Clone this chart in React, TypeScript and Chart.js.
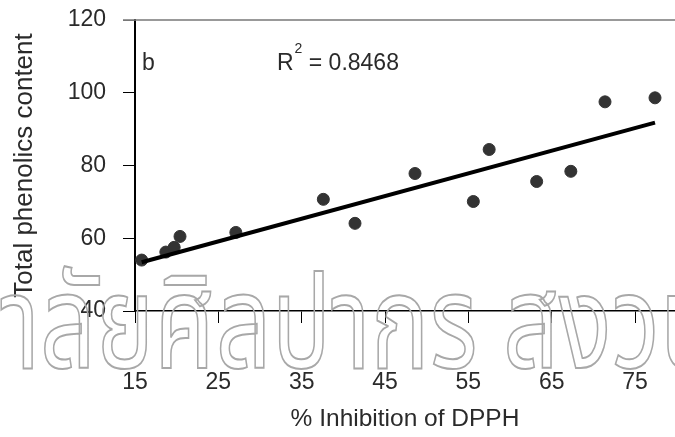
import React, { useEffect, useRef } from "react";
import { Chart, registerables } from "chart.js";

Chart.register(...registerables);

const xValues = [15.8, 18.7, 19.7, 20.4, 27.1, 37.6, 41.4, 48.6, 55.6, 57.5, 63.2, 67.3, 71.4, 77.4];
const yValues = [54.0, 56.2, 57.5, 60.5, 61.6, 70.7, 64.1, 77.8, 70.1, 84.4, 75.6, 78.4, 97.5, 98.6];
const trendX = [15.8, 77.4];
const trendY = [53.4, 91.8];
const xTickValues = [15, 25, 35, 45, 55, 65, 75];
const yTickValues = [40, 60, 80, 100, 120];
const xTitle = "% Inhibition of DPPH";
const yTitle = "Total phenolics content";
const panelLabel = "b";
const r2Label = "0.8468";
const watermark = "มหาวิทยาลัยศิลปากร สงวนลิขสิทธิ์";

const FONT = "'Liberation Sans', Arial, sans-serif";
const TEXT = "#2a2a2a";

const overlay = {
  id: "overlay",
  afterDraw(chart: any) {
    const ctx = chart.ctx;
    const area = chart.chartArea;
    ctx.save();
    // top border line
    ctx.strokeStyle = "#777";
    ctx.lineWidth = 1.5;
    ctx.beginPath();
    ctx.moveTo(area.left - 12, area.top);
    ctx.lineTo(chart.width, area.top);
    ctx.stroke();

    // panel label and R^2
    ctx.fillStyle = TEXT;
    ctx.font = `23px ${FONT}`;
    ctx.textBaseline = "alphabetic";
    ctx.textAlign = "left";
    ctx.fillText(panelLabel, area.left + 7, 70);
    let x = 277;
    ctx.fillText("R", x, 70);
    x += ctx.measureText("R").width;
    ctx.font = `14px ${FONT}`;
    ctx.fillText("2", x + 1, 53);
    x += ctx.measureText("2").width + 1;
    ctx.font = `23px ${FONT}`;
    ctx.fillText(" = " + r2Label, x, 70);

    // watermark
    const size = 130;
    ctx.font = `${size}px 'Noto Sans Thai', 'Noto Sans', sans-serif`;
    const w1 = ctx.measureText("มหาวิทยา").width;
    const w2 = ctx.measureText("มหาวิทยาลัยศิลปากร ").width;
    const sx = (503 - 40) / (w2 - w1);
    const x0 = 40 - w1 * sx;
    ctx.translate(x0, 368);
    ctx.scale(sx, 1);
    ctx.strokeStyle = "#a8a8a8";
    ctx.lineWidth = 1.5 / sx;
    ctx.strokeText(watermark, 0, 0);
    ctx.restore();
  },
};

export default function App() {
  const ref = useRef<HTMLCanvasElement | null>(null);
  useEffect(() => {
    if (!ref.current) return;
    const chart = new Chart(ref.current, {
      type: "scatter",
      data: {
        datasets: [
          {
            type: "line",
            data: trendX.map((x, i) => ({ x, y: trendY[i] })),
            borderColor: "#000",
            borderWidth: 4,
            pointRadius: 0,
            fill: false,
          },
          {
            data: xValues.map((x, i) => ({ x, y: yValues[i] })),
            backgroundColor: "#333",
            borderColor: "#333",
            pointRadius: 6,
            pointHoverRadius: 6,
          },
        ],
      } as any,
      options: {
        animation: false,
        responsive: false,
        maintainAspectRatio: false,
        layout: { autoPadding: false, padding: { top: 20, right: 0, left: 0, bottom: 0 } },
        plugins: { legend: { display: false }, tooltip: { enabled: false } },
        scales: {
          x: {
            type: "linear",
            position: "bottom",
            min: 15,
            max: 79.8,
            border: { display: true, color: "#000", width: 1.5 },
            grid: { display: true, drawOnChartArea: false, drawTicks: true, tickLength: 12, color: "#000", lineWidth: 1 },
            ticks: { font: { family: FONT, size: 23 }, color: TEXT, padding: 46, maxRotation: 0 },
            afterBuildTicks: (s: any) => { s.ticks = xTickValues.map((v) => ({ value: v })); },
            afterFit: (s: any) => { s.height = 126; s.paddingLeft = 0; s.paddingRight = 0; },
            title: { display: true, text: xTitle, font: { family: FONT, size: 24.5 }, color: TEXT, padding: { top: 0, bottom: 3 } },
          },
          y: {
            type: "linear",
            min: 40,
            max: 120,
            border: { display: true, color: "#000", width: 2 },
            grid: {
              display: true, drawOnChartArea: false, drawTicks: true, tickLength: 12,
              color: (c: any) => (c.tick && c.tick.value === 120 ? "#777" : "#000"), lineWidth: 1,
            },
            ticks: { font: { family: FONT, size: 23 }, color: TEXT, padding: 17 },
            afterBuildTicks: (s: any) => { s.ticks = yTickValues.map((v) => ({ value: v })); },
            afterFit: (s: any) => { s.width = 135; s.paddingTop = 0; s.paddingBottom = 0; },
            title: { display: true, text: yTitle, font: { family: FONT, size: 26 }, color: TEXT, padding: { top: 9, bottom: 0 } },
          },
        },
      } as any,
      plugins: [overlay],
    });
    return () => chart.destroy();
  }, []);
  return (
    <div style={{ position: "absolute", left: 0, top: 0, width: 675, height: 437, background: "#fff" }}>
      <canvas ref={ref} width={675} height={437} style={{ display: "block" }} />
    </div>
  );
}
